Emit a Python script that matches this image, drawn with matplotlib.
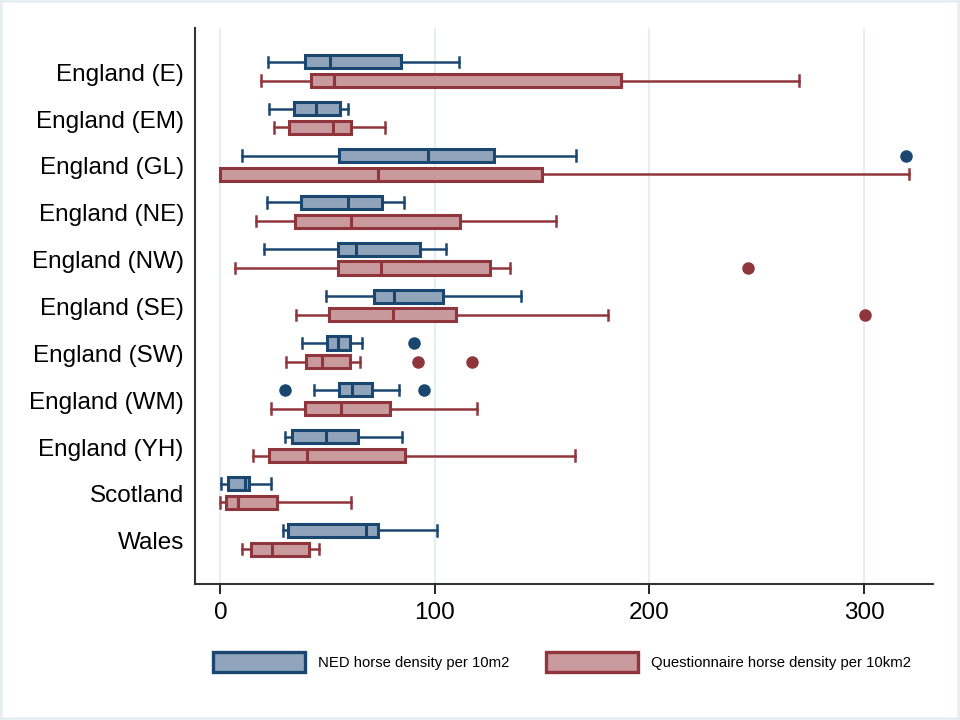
import numpy as np
import matplotlib
matplotlib.use("Agg")
import matplotlib.pyplot as plt
from matplotlib.patches import Patch, Rectangle

plt.rcParams['font.family'] = ['Liberation Sans', 'DejaVu Sans']

regions = ['England (E)', 'England (EM)', 'England (GL)', 'England (NE)',
           'England (NW)', 'England (SE)', 'England (SW)', 'England (WM)',
           'England (YH)', 'Scotland', 'Wales']

# NED horse density per 10m2
ned_lo  = [22.3, 22.8, 10.0, 21.5, 20.3, 49.0, 38.1, 43.4, 29.9, 0.4, 29.3]
ned_q1  = [39.2, 34.3, 55.4, 37.4, 54.6, 71.4, 49.7, 55.2, 33.5, 3.5, 31.6]
ned_med = [51.0, 44.7, 96.6, 59.4, 63.2, 81.0, 54.9, 61.3, 49.3, 11.4, 67.7]
ned_q3  = [84.0, 55.7, 127.5, 75.1, 93.0, 103.9, 60.2, 70.6, 64.1, 13.4, 73.3]
ned_hi  = [111.3, 59.4, 165.9, 85.5, 105.0, 140.1, 65.8, 83.2, 84.5, 23.4, 101.0]
ned_out = [[], [], [319.6], [], [], [], [90.2], [30.1, 94.7], [], [], []]

# Questionnaire horse density per 10km2
q_lo  = [18.9, 24.8, 0.0, 16.4, 6.8, 35.0, 30.5, 23.5, 15.2, 0.0, 10.0]
q_q1  = [42.3, 32.2, 0.0, 34.9, 54.8, 50.7, 39.9, 39.2, 22.6, 2.7, 14.2]
q_med = [52.9, 52.3, 73.6, 60.8, 74.8, 80.6, 47.2, 56.2, 40.2, 8.0, 24.0]
q_q3  = [186.6, 61.0, 150.0, 111.5, 125.6, 109.8, 60.2, 78.9, 85.9, 26.3, 41.1]
q_hi  = [269.7, 76.8, 321.0, 156.4, 135.1, 180.5, 65.0, 119.7, 165.3, 60.7, 46.0]
q_out = [[], [], [], [], [245.9], [300.5], [92.1, 117.1], [], [], [], []]

xticks = [0, 100, 200, 300]

blue_edge, blue_fill = '#1a476f', '#90a4bb'
red_edge, red_fill = '#90353b', '#c99a9d'
grid_col = '#e6eef1'


def make_stats(lo, q1, med, q3, hi, out):
    return [dict(whislo=a, q1=b, med=c, q3=d, whishi=e, fliers=f)
            for a, b, c, d, e, f in zip(lo, q1, med, q3, hi, out)]


fig = plt.figure(figsize=(9.6, 7.2), dpi=100)
fig.patch.set_facecolor('white')
fig.patches.append(Rectangle((0, 0), 1, 1, transform=fig.transFigure,
                             fill=False, edgecolor=grid_col, linewidth=4))
ax = fig.add_axes([0.203, 0.189, 0.769, 0.772])

pos = np.arange(len(regions))


def draw(stats, offset, edge, fill):
    ax.bxp(stats, positions=pos + offset, widths=0.28, vert=False,
           patch_artist=True, capwidths=0.22,
           boxprops=dict(facecolor=fill, edgecolor=edge, linewidth=2.2),
           medianprops=dict(color=edge, linewidth=2.2),
           whiskerprops=dict(color=edge, linewidth=1.8),
           capprops=dict(color=edge, linewidth=1.8),
           flierprops=dict(marker='o', markerfacecolor=edge,
                           markeredgecolor=edge, markersize=8),
           manage_ticks=False, zorder=3)


draw(make_stats(ned_lo, ned_q1, ned_med, ned_q3, ned_hi, ned_out),
     -0.22, blue_edge, blue_fill)
draw(make_stats(q_lo, q_q1, q_med, q_q3, q_hi, q_out),
     0.18, red_edge, red_fill)

ax.set_xlim(-11.9, 332.2)
ax.set_ylim(len(regions) - 1 + 0.92, -0.94)
ax.set_yticks(pos)
ax.set_yticklabels(regions, fontsize=17.5)
ax.tick_params(axis='y', length=0, pad=8)
ax.set_xticks(xticks)
ax.set_xticklabels([str(t) for t in xticks], fontsize=17.5)
ax.tick_params(axis='x', length=7, width=1.2, pad=6)
ax.grid(axis='x', color=grid_col, linewidth=1.5, zorder=0)
ax.set_axisbelow(True)
for s in ['top', 'right']:
    ax.spines[s].set_visible(False)
for s in ['left', 'bottom']:
    ax.spines[s].set_color('#333333')
    ax.spines[s].set_linewidth(1.5)

handles = [Patch(facecolor=blue_fill, edgecolor=blue_edge, linewidth=2.4,
                 label='NED horse density per 10m2'),
           Patch(facecolor=red_fill, edgecolor=red_edge, linewidth=2.4,
                 label='Questionnaire horse density per 10km2')]
fig.legend(handles=handles, loc='center left', bbox_to_anchor=(0.222, 0.081),
           ncol=2, frameon=False, fontsize=10.7, handlelength=6.15,
           handleheight=1.68, handletextpad=0.9, columnspacing=2.5,
           borderpad=0, borderaxespad=0)

fig.savefig('out.png', dpi=100)
